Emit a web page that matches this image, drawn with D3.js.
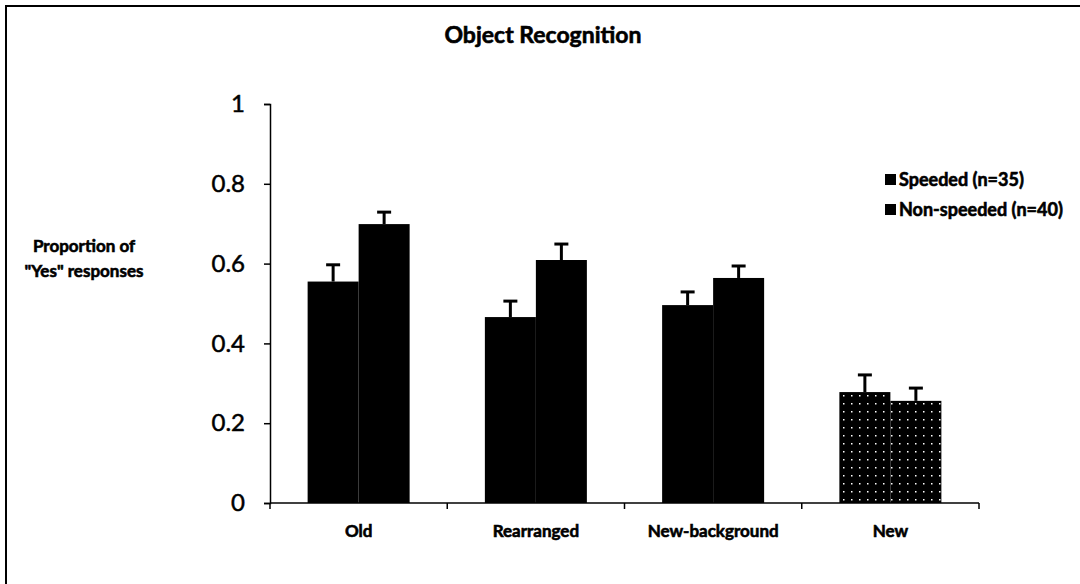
<!DOCTYPE html>
<html lang="en">
<head>
<meta charset="UTF-8">
<title>Object Recognition</title>
<script src="https://cdn.jsdelivr.net/npm/d3@7"></script>
<style>
body { margin: 0; background: #fff; }
text { font-family: Lato, "Open Sans", sans-serif; fill: #000; }
.heavy { stroke: #000; stroke-width: 0.6px; font-weight: bold; }
</style>
</head>
<body>
<svg width="1080" height="584"></svg>
<script>
var categories = ['Old', 'Rearranged', 'New-background', 'New'];
var seriesNames = ['Speeded (n=35)', 'Non-speeded (n=40)'];
var speeded = [0.555, 0.466, 0.496, 0.278];
var nonSpeeded = [0.699, 0.609, 0.564, 0.256];
var speededErr = [0.042, 0.04, 0.033, 0.043];
var nonSpeededErr = [0.03, 0.04, 0.03, 0.032];
var yTicks = [0, 0.2, 0.4, 0.6, 0.8, 1];

var svg = d3.select('svg');

// frame (only top and left edges are visible)
svg.append('path').attr('d', 'M6,584V6H1080').attr('fill', 'none')
    .attr('stroke', '#000').attr('stroke-width', 2);

var defs = svg.append('defs');
var pat = defs.append('pattern').attr('id', 'dots').attr('patternUnits', 'userSpaceOnUse')
    .attr('width', 8).attr('height', 8);
pat.append('rect').attr('width', 8).attr('height', 8).attr('fill', '#000');
pat.append('rect').attr('x', 3).attr('y', 3).attr('width', 1.5).attr('height', 1.5).attr('fill', '#fff');

var x = d3.scaleBand().domain(categories).range([270, 979]).paddingInner(0).paddingOuter(0);
var y = d3.scaleLinear().domain([0, 1]).range([503, 104]);
var barW = 51;

var g = svg.append('g');
var rows = categories.map(function(c, i) {
    return [
        {cat: c, i: i, s: 0, v: speeded[i], e: speededErr[i]},
        {cat: c, i: i, s: 1, v: nonSpeeded[i], e: nonSpeededErr[i]}
    ];
});
var flat = [].concat.apply([], rows);

function bx(d) {
    var c = x(d.cat) + x.bandwidth() / 2;
    return d.s === 0 ? c - barW : c;
}

// error bars
g.selectAll('line.err').data(flat).enter().append('line')
    .attr('x1', function(d) { return bx(d) + barW / 2; })
    .attr('x2', function(d) { return bx(d) + barW / 2; })
    .attr('y1', function(d) { return y(d.v); })
    .attr('y2', function(d) { return y(d.v + d.e); })
    .attr('stroke', '#000').attr('stroke-width', 3);
g.selectAll('line.cap').data(flat).enter().append('line')
    .attr('x1', function(d) { return bx(d) + barW / 2 - 7; })
    .attr('x2', function(d) { return bx(d) + barW / 2 + 7; })
    .attr('y1', function(d) { return y(d.v + d.e); })
    .attr('y2', function(d) { return y(d.v + d.e); })
    .attr('stroke', '#000').attr('stroke-width', 3);

g.selectAll('rect.bar').data(flat).enter().append('rect')
    .attr('x', bx)
    .attr('y', function(d) { return y(d.v); })
    .attr('width', barW)
    .attr('height', function(d) { return y(0) - y(d.v); })
    .attr('fill', function(d) { return d.i === categories.length - 1 ? 'url(#dots)' : '#000'; });

// y axis
var yAxis = svg.append('g').attr('transform', 'translate(270,0)')
    .call(d3.axisLeft(y).tickValues(yTicks).tickSize(6).tickPadding(19)
        .tickFormat(function(d) { return d === 0 || d === 1 ? d : d3.format('.1f')(d); }));
yAxis.select('.domain').attr('stroke-width', 1.5);
yAxis.selectAll('.tick line').attr('stroke-width', 1.5);
yAxis.selectAll('text').attr('font-size', 24).attr('font-family', 'Lato, sans-serif')
    .attr('stroke', '#000').attr('stroke-width', 0.5);

// x axis
var xAxis = svg.append('g').attr('transform', 'translate(0,503)')
    .call(d3.axisBottom(x).tickSize(0).tickPadding(22));
xAxis.select('.domain').attr('stroke-width', 1.5).attr('d', 'M270,0H979');
xAxis.selectAll('text').attr('font-size', 17).attr('class', 'heavy')
    .attr('font-family', 'Lato, sans-serif');
svg.append('g').selectAll('line').data(categories.concat(['end'])).enter().append('line')
    .attr('x1', function(d, i) { return 270 + i * x.bandwidth(); })
    .attr('x2', function(d, i) { return 270 + i * x.bandwidth(); })
    .attr('y1', 503).attr('y2', 509)
    .attr('stroke', '#000').attr('stroke-width', 1.5);

// title
svg.append('text').attr('x', 543).attr('y', 43).attr('text-anchor', 'middle')
    .attr('font-size', 23).attr('class', 'heavy').text('Object Recognition');

// y label
var yl = svg.append('text').attr('text-anchor', 'middle')
    .attr('font-size', 17).attr('class', 'heavy');
yl.append('tspan').attr('x', 84).attr('y', 252).text('Proportion of');
yl.append('tspan').attr('x', 84).attr('y', 277).text('"Yes" responses');

// legend
var leg = svg.append('g').selectAll('g').data(seriesNames).enter().append('g')
    .attr('transform', function(d, i) { return 'translate(885,' + (174 + i * 30) + ')'; });
leg.append('rect').attr('width', 11).attr('height', 11).attr('fill', '#000');
leg.append('text').attr('x', 14).attr('y', 12).attr('font-size', 18).attr('class', 'heavy')
    .text(function(d) { return d; });
</script>
</body>
</html>
